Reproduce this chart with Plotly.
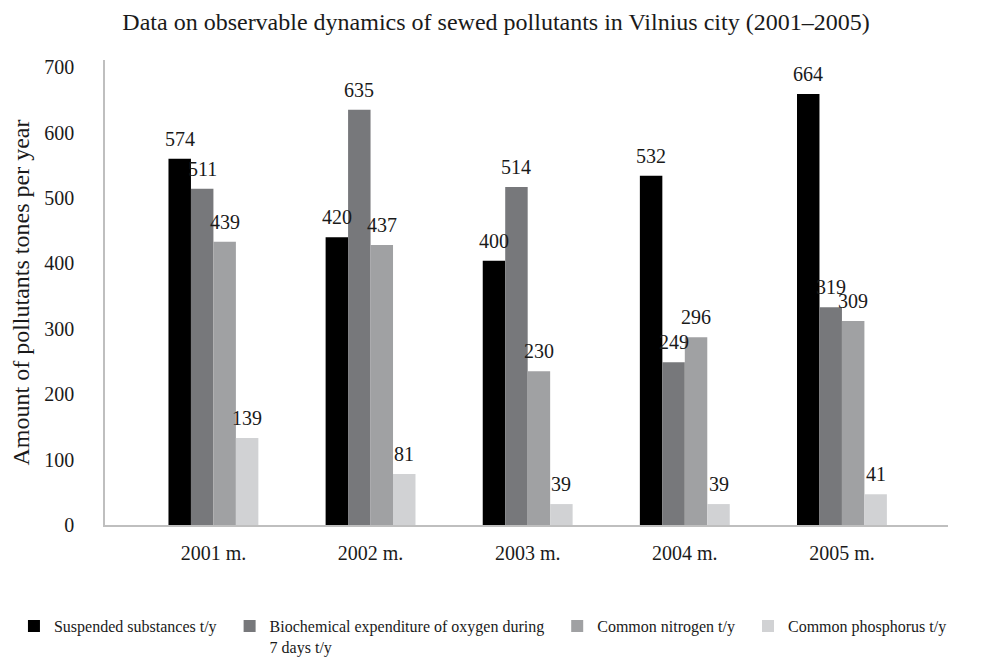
import plotly.graph_objects as go

years = ["2001 m.", "2002 m.", "2003 m.", "2004 m.", "2005 m."]
series_names = [
    "Suspended substances t/y\u00a0\u00a0",
    "Biochemical expenditure of oxygen during\u00a0\u00a0<br>7 days t/y",
    "Common nitrogen t/y\u00a0\u00a0",
    "Common phosphorus t/y",
]
# bar heights as drawn
suspended = [560, 440, 404, 534, 659]
biochemical = [514, 635, 517, 249, 333]
nitrogen = [433, 428, 235, 287, 312]
phosphorus = [133, 78, 32, 32, 47]
# value labels as printed
suspended_lbl = ["574", "420", "400", "532", "664"]
biochemical_lbl = ["511", "635", "514", "249", "319"]
nitrogen_lbl = ["439", "437", "230", "296", "309"]
phosphorus_lbl = ["139", "81", "39", "39", "41"]

colors = ["#000000", "#77787b", "#a0a1a3", "#d1d2d4"]
values = [suspended, biochemical, nitrogen, phosphorus]
labels = [suspended_lbl, biochemical_lbl, nitrogen_lbl, phosphorus_lbl]

FONT = "Liberation Serif"
W, H = 976, 650
ML, MR, MT, MB = 97, 36, 52, 133
X_RANGE = [-0.69, 4.675]
BARGAP = 0.428
N_SERIES = len(values)

fig = go.Figure()
for name, vals, col in zip(series_names, values, colors):
    fig.add_trace(go.Bar(
        x=years, y=vals, name=name, marker_color=col, marker_line_width=0,
    ))

# value labels above each bar (offset within the group from bar layout)
cat_px = (W - ML - MR) / (X_RANGE[1] - X_RANGE[0])
bar_px = cat_px * (1 - BARGAP) / N_SERIES
for i, (vals, lbls) in enumerate(zip(values, labels)):
    for yr, v, t in zip(years, vals, lbls):
        fig.add_annotation(
            x=yr, y=v, xref="x", yref="y", text=t, showarrow=False,
            xanchor="center", yanchor="bottom",
            xshift=(i - (N_SERIES - 1) / 2) * bar_px, yshift=7,
            font=dict(family=FONT, size=20, color="#1a1a1a"),
        )

fig.update_layout(
    width=W, height=H,
    margin=dict(l=ML, r=MR, t=MT, b=MB, autoexpand=False),
    paper_bgcolor="white", plot_bgcolor="white",
    barmode="group", bargap=BARGAP, bargroupgap=0,
    title=dict(text="Data on observable dynamics of sewed pollutants in Vilnius city (2001–2005)",
               x=0.5, xanchor="center", y=1 - 14 / H, yanchor="middle",
               font=dict(family=FONT, size=24, color="#1a1a1a")),
    font=dict(family=FONT, color="#1a1a1a"),
    xaxis=dict(range=X_RANGE, showline=True, linecolor="#bfbfbf", linewidth=1.5,
               showgrid=False, ticks="", automargin=False,
               tickfont=dict(family=FONT, size=20, color="#1a1a1a"),
               ticklabelstandoff=9),
    yaxis=dict(range=[0, 711], tickvals=[0, 100, 200, 300, 400, 500, 600, 700],
               showline=True, linecolor="#bfbfbf", linewidth=1.5, showgrid=False,
               zeroline=False, ticks="", automargin=False,
               tickfont=dict(family=FONT, size=20, color="#1a1a1a"),
               ticklabelstandoff=25,
               title=dict(text="Amount of pollutants tones per year", standoff=15,
                          font=dict(family=FONT, size=24, color="#1a1a1a"))),
    legend=dict(orientation="h", x=-0.108, xanchor="left", y=-0.181, yanchor="top",
                valign="top", font=dict(family=FONT, size=16, color="#1a1a1a"),
                itemwidth=30, traceorder="normal"),
    showlegend=True,
)

fig.write_html("out.html")
